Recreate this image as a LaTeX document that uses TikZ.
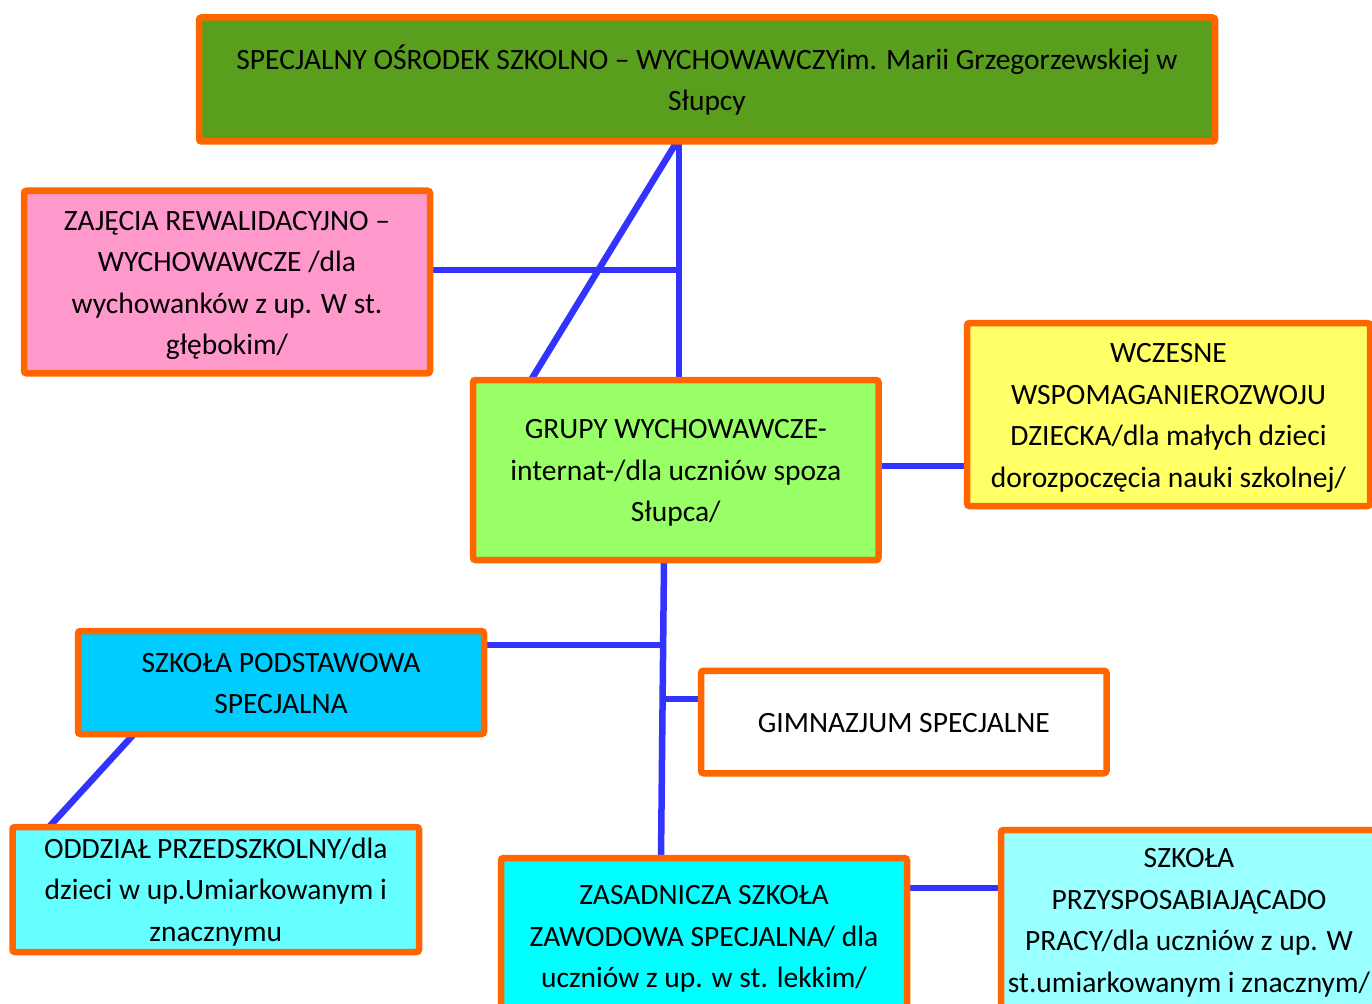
\documentclass[tikz,border=0pt]{standalone}
\usepackage{fontspec}
\setmainfont{Carlito}
\usetikzlibrary{backgrounds}
\definecolor{borderor}{HTML}{FF6600}
\definecolor{linkblue}{HTML}{3333FF}
\definecolor{topgreen}{HTML}{5A9E1E}
\definecolor{pinkfill}{HTML}{FF99CC}
\definecolor{yellowfill}{HTML}{FFFF66}
\definecolor{lgreenfill}{HTML}{99FF66}
\definecolor{bluefill}{HTML}{00CCFF}
\definecolor{cyanA}{HTML}{66FFFF}
\definecolor{cyanB}{HTML}{00FFFF}
\definecolor{cyanC}{HTML}{99FFFF}
\newcommand\boxlines[1]{\raisebox{-2pt}[\height][\depth]{\begin{tabular}{@{}c@{}}#1\end{tabular}}}
\tikzset{
  box/.style={draw=borderor, line width=6.5pt, rounded corners=2.5pt,
    inner sep=0pt, outer sep=0pt, text=black,
    font=\fontsize{29.5}{41.5}\selectfont},
  link/.style={draw=linkblue, line width=6.5pt, line cap=butt}
}
\begin{document}
\begin{tikzpicture}[x=1pt,y=-1pt]
\path[use as bounding box, clip] (0,0) rectangle (1372,1003);

\node[box, fill=topgreen, minimum width=1016pt, minimum height=124pt] (top) at (707,79.5)
  {\boxlines{SPECJALNY OŚRODEK SZKOLNO – WYCHOWAWCZYim. Marii Grzegorzewskiej w\\Słupcy}};
\node[box, fill=pinkfill, minimum width=406pt, minimum height=182.5pt] (pink) at (227,282)
  {\boxlines{ZAJĘCIA REWALIDACYJNO –\\WYCHOWAWCZE /dla\\wychowanków z up. W st.\\głębokim/}};
\node[box, fill=yellowfill, minimum width=403pt, minimum height=183pt] (yellow) at (1168.5,414.5)
  {\boxlines{WCZESNE\\WSPOMAGANIEROZWOJU\\DZIECKA/dla małych dzieci\\dorozpoczęcia nauki szkolnej/}};
\node[box, fill=lgreenfill, minimum width=405.5pt, minimum height=180pt] (green) at (675.75,470)
  {\boxlines{GRUPY WYCHOWAWCZE-\\internat-/dla uczniów spoza\\Słupca/}};
\node[box, fill=bluefill, minimum width=406pt, minimum height=103pt] (blue) at (281,682.5)
  {\boxlines{SZKOŁA PODSTAWOWA\\SPECJALNA}};
\node[box, fill=white, minimum width=405.5pt, minimum height=102.5pt] (gim) at (903.75,722)
  {\boxlines{GIMNAZJUM SPECJALNE}};
\node[box, fill=cyanA, minimum width=406.5pt, minimum height=125pt] (odd) at (215.75,889.5)
  {\boxlines{ODDZIAŁ PRZEDSZKOLNY/dla\\dzieci w up.Umiarkowanym i\\znacznymu}};
\node[box, fill=cyanB, minimum width=406pt, minimum height=156pt] (zas) at (704,936)
  {\boxlines{ZASADNICZA SZKOŁA\\ZAWODOWA SPECJALNA/ dla\\uczniów z up. w st. lekkim/}};
\node[box, fill=cyanC, minimum width=376pt, minimum height=179pt] (szk) at (1189,919.5)
  {\boxlines{SZKOŁA\\PRZYSPOSABIAJĄCADO\\PRACY/dla uczniów z up. W\\st.umiarkowanym i znacznym/}};

\coordinate (jp) at (679,270);
\coordinate (jb) at (663.5,645);
\coordinate (jg) at (663,699);

\begin{scope}[on background layer]
\draw[link] (top.south -| 679,0) -- (green.north -| 679,0);
\draw[link] (top.south -| 677,0) -- (green.north -| 531,0);
\draw[link] (pink.east |- jp) -- (jp);
\draw[link] (green.east |- 0,466) -- (yellow.west |- 0,466);
\draw[link] (green.south -| 664,0) -- (zas.north -| 661,0);
\draw[link] (blue.east |- jb) -- (jb);
\draw[link] (jg) -- (gim.west |- jg);
\draw[link] (blue.south -| 134,0) -- (odd.north -| 49,0);
\draw[link] (zas.east |- 0,888) -- (szk.west |- 0,888);
\end{scope}
\end{tikzpicture}
\end{document}
